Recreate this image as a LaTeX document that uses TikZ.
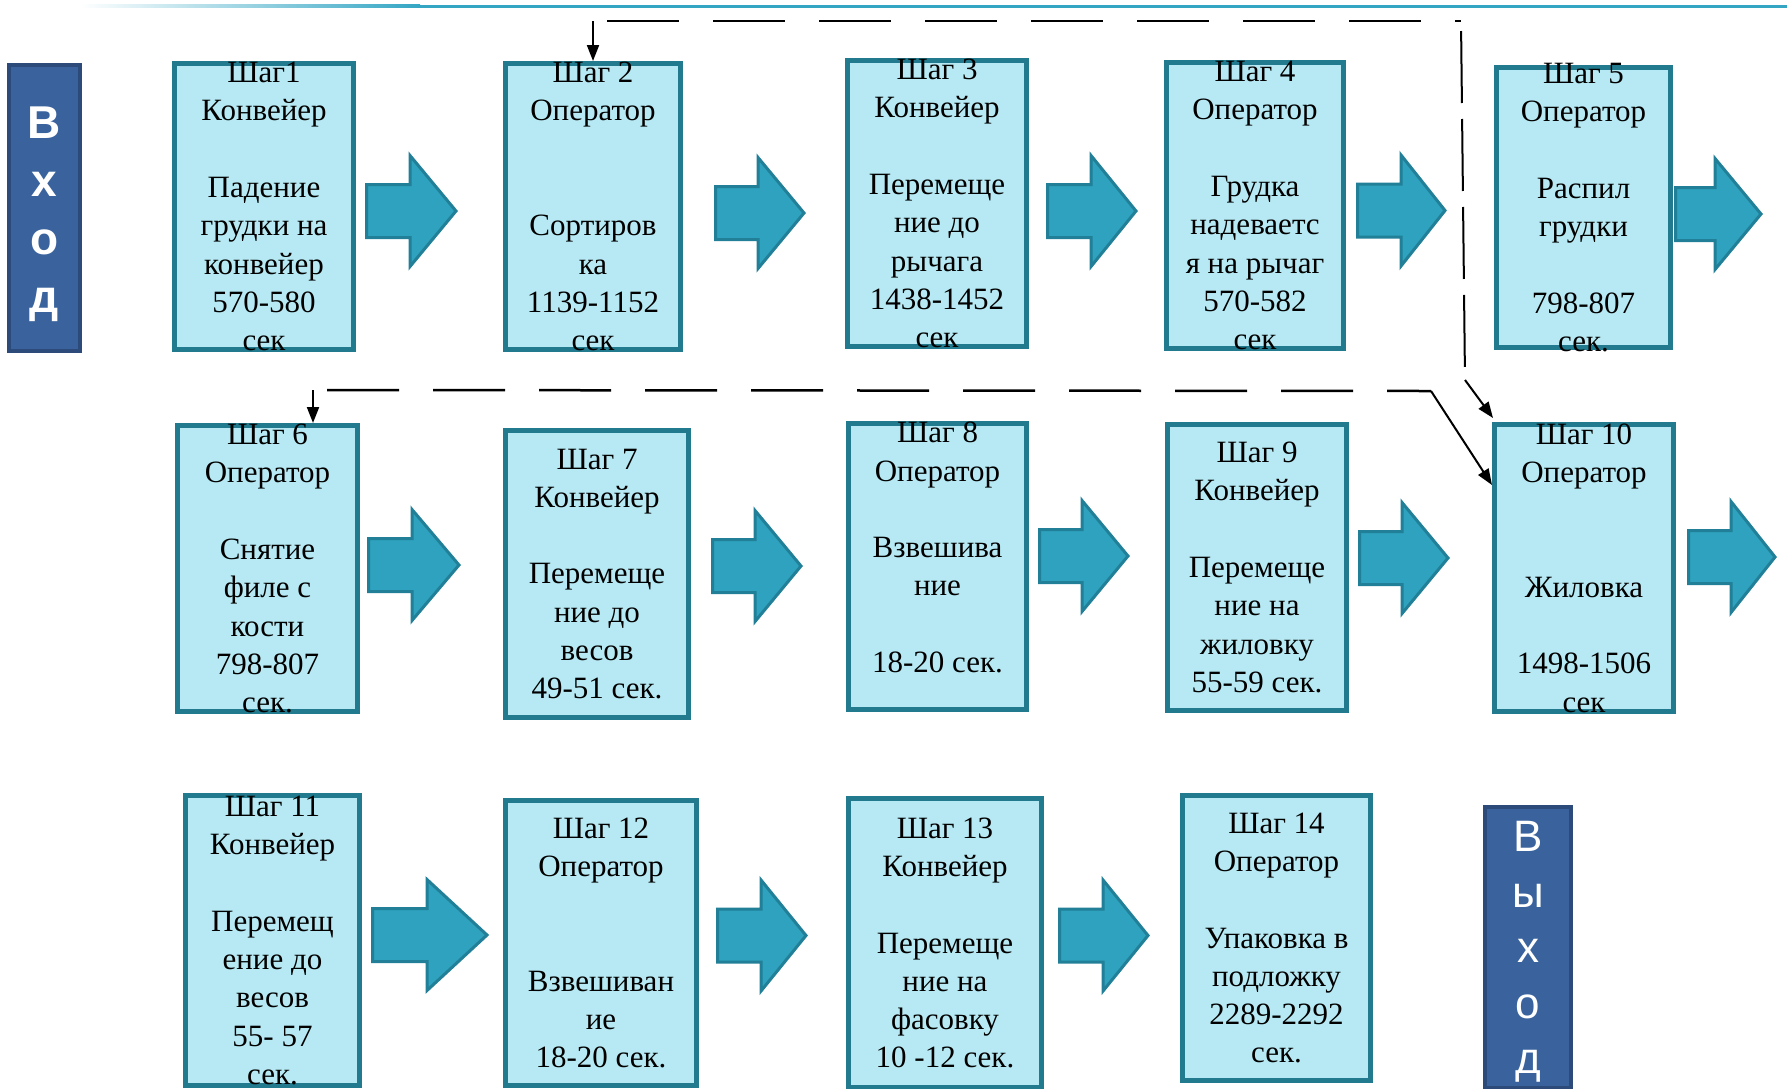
\documentclass[tikz,border=0pt]{standalone}
\usepackage{fontspec}
\setmainfont{Liberation Serif}
\newfontfamily\sansf{Liberation Sans}
\usetikzlibrary{arrows.meta}
\definecolor{boxfill}{RGB}{182,233,243}
\definecolor{boxline}{RGB}{33,122,141}
\definecolor{arrfill}{RGB}{46,162,190}
\definecolor{arrline}{RGB}{33,128,152}
\definecolor{sidefill}{RGB}{58,99,158}
\definecolor{sideline}{RGB}{44,74,122}
\definecolor{topline}{RGB}{52,166,196}
\tikzset{
  boxst/.style={draw=boxline, line width=5pt, fill=boxfill, rectangle, inner sep=0pt},
  txt/.style={align=center, font=\fontsize{31}{38.3}\selectfont, inner sep=0pt},
  barrowst/.style={fill=arrfill, draw=arrline, line width=3pt, line join=miter},
  dashln/.style={line width=2.5pt, dash pattern=on 72pt off 34pt, dash phase=92pt},
  vdashln/.style={line width=2pt, dash pattern=on 72pt off 16pt, dash phase=78pt},
  conn/.style={line width=2pt, -{Triangle[length=16pt,width=12pt]}},
  sidebox/.style={draw=sideline, line width=4pt, fill=sidefill, rectangle, inner sep=0pt},
}
\newcommand\stepbox[6]{%
  \node[boxst, minimum width={#4-#2-5}, minimum height={#5-#3-5}] (#1) at ({(#2+#4)/2},{(#3+#5)/2}) {};
  \node[txt] (#1t) at (#1.center) {#6};}
\newcommand\blockarr[4]{%
  \draw[barrowst] (#1+1.5,#4-26.5) -- (#2,#4-26.5) -- (#2,#4-55.5) -- (#3-3,#4) -- (#2,#4+55.5) -- (#2,#4+26.5) -- (#1+1.5,#4+26.5) -- cycle;}
\begin{document}
\begin{tikzpicture}[x=1pt,y=-1pt]
\useasboundingbox (0,0) rectangle (1787,1088);
% top rule
\shade[left color=white, right color=topline] (80,4.5) rectangle (420,7.5);
\fill[topline] (420,4.5) rectangle (1787,7.5);

% input / output
\node[sidebox, minimum width=71, minimum height=286] (vin) at (44.5,208) {};
\node[font=\sansf\bfseries\fontsize{46}{58}\selectfont, text=white, align=center, inner sep=0pt] (vint) at (44.5,214) {В\\х\\о\\д};
\node[sidebox, minimum width=86, minimum height=281] (vout) at (1528,947.5) {};
\node[font=\sansf\fontsize{44}{55.5}\selectfont, text=white, align=center, inner sep=0pt] (voutt) at (1528,952) {В\\ы\\х\\о\\д};

% row 1
\stepbox{s1}{172}{61}{356}{352}{Шаг1\\Конвейер\\\mbox{}\\Падение\\грудки на\\конвейер\\570-580\\сек}
\stepbox{s2}{503}{61}{683}{352}{Шаг 2\\Оператор\\\mbox{}\\\mbox{}\\Сортиров\\ка\\1139-1152\\сек}
\stepbox{s3}{845}{58}{1029}{349}{Шаг 3\\Конвейер\\\mbox{}\\Перемеще\\ние до\\рычага\\1438-1452\\сек}
\stepbox{s4}{1164}{60}{1346}{351}{Шаг 4\\Оператор\\\mbox{}\\Грудка\\надеваетс\\я на рычаг\\570-582\\сек}
\stepbox{s5}{1494}{65}{1673}{350}{Шаг 5\\Оператор\\\mbox{}\\Распил\\грудки\\\mbox{}\\798-807\\сек.}
% row 2
\stepbox{s6}{175}{423}{360}{714}{Шаг 6\\Оператор\\\mbox{}\\Снятие\\филе с\\кости\\798-807\\сек.}
\stepbox{s7}{503}{428}{691}{720}{Шаг 7\\Конвейер\\\mbox{}\\Перемеще\\ние до\\весов\\49-51 сек.}
\stepbox{s8}{846}{421}{1029}{712}{Шаг 8\\Оператор\\\mbox{}\\Взвешива\\ние\\\mbox{}\\18-20 сек.\\\mbox{}}
\stepbox{s9}{1165}{422}{1349}{713}{Шаг 9\\Конвейер\\\mbox{}\\Перемеще\\ние на\\жиловку\\55-59 сек.}
\stepbox{s10}{1492}{422}{1676}{714}{Шаг 10\\Оператор\\\mbox{}\\\mbox{}\\Жиловка\\\mbox{}\\1498-1506\\сек}
% row 3
\stepbox{s11}{183}{793}{362}{1088}{Шаг 11\\Конвейер\\\mbox{}\\Перемещ\\ение до\\весов\\55- 57\\сек.}
\stepbox{s12}{503}{798}{699}{1088}{Шаг 12\\Оператор\\\mbox{}\\\mbox{}\\Взвешиван\\ие\\18-20 сек.}
\stepbox{s13}{846}{796}{1044}{1090}{Шаг 13\\Конвейер\\\mbox{}\\Перемеще\\ние на\\фасовку\\10 -12 сек.}
\stepbox{s14}{1180}{793}{1373}{1083}{Шаг 14\\Оператор\\\mbox{}\\Упаковка в\\подложку\\2289-2292\\сек.}

% block arrows
\blockarr{365}{410}{459}{211}
\blockarr{714}{758}{807}{213}
\blockarr{1046}{1091}{1139}{211}
\blockarr{1356}{1401}{1448}{210.5}
\blockarr{1674}{1715}{1764}{214}
\blockarr{367}{412}{462}{565}
\blockarr{711}{755}{804}{566}
\blockarr{1038}{1082}{1131}{556}
\blockarr{1358}{1402}{1451}{558}
\blockarr{1687}{1731}{1778}{557}
\blockarr{371}{427}{490}{935}
\blockarr{716}{761}{809}{935.5}
\blockarr{1058}{1103}{1151}{935.5}

% dashed feedback connectors
\coordinate (ta) at (593,21);
\coordinate (tb) at (1461,21);
\coordinate (tc) at (1465,380);
\coordinate (tend) at (1493,418);
\draw[dashln] (ta) -- (tb);
\draw[vdashln] (tb) -- (tc);
\draw[conn] (ta) -- (s2.north);
\draw[conn] (tc) -- (tend);

\coordinate (ba) at (313,390);
\coordinate (bb) at (1431,391);
\coordinate (bend) at (1492,485);
\draw[dashln] (ba) -- (bb);
\draw[conn] (ba) -- (ba |- s6.north);
\draw[conn] (bb) -- (bend);
\end{tikzpicture}
\end{document}
